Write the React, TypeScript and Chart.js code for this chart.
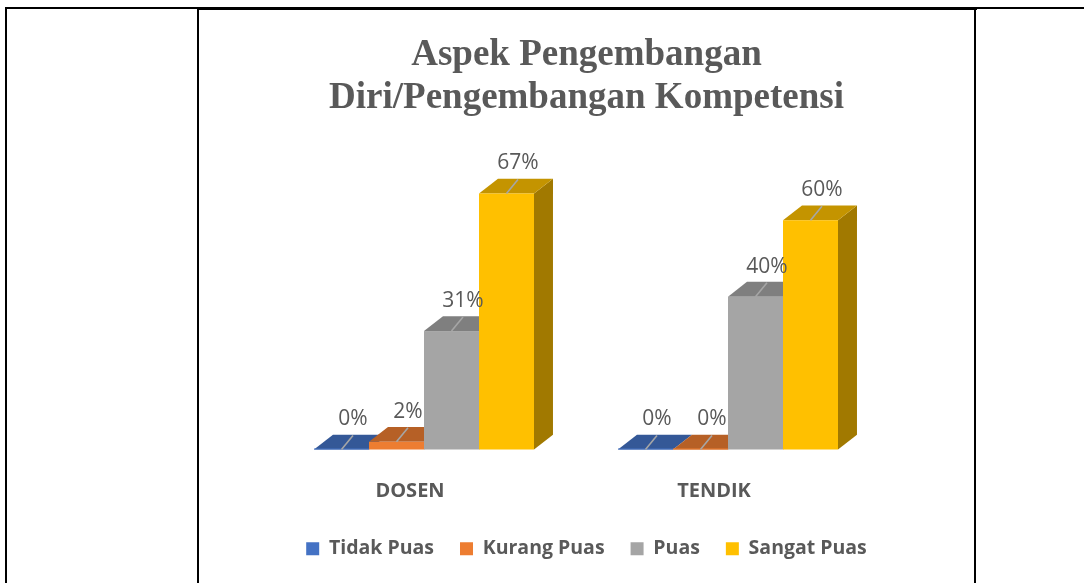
import React, { useEffect, useRef } from "react";
import { Chart, registerables } from "chart.js";

Chart.register(...registerables);

// ---- data ----
const categories = ["DOSEN", "TENDIK"];
const seriesNames = ["Tidak Puas", "Kurang Puas", "Puas", "Sangat Puas"];
const tidakPuas = [0, 0];
const kurangPuas = [2, 0];
const puas = [31, 40];
const sangatPuas = [67, 60];
const titleLines = ["Aspek Pengembangan", "Diri/Pengembangan Kompetensi"];
const yMax = 81;

// ---- style ----
const frontColors = ["#4472C4", "#ED7D31", "#A5A5A5", "#FFC000"];
const textColor = "#595959";
const sansFont = "'Open Sans', 'Liberation Sans', sans-serif";
const serifFont = "'Liberation Serif', 'Times New Roman', serif";

function shade(hex: string, f: number): string {
  const n = parseInt(hex.slice(1), 16);
  const r = Math.round(((n >> 16) & 255) * f);
  const g = Math.round(((n >> 8) & 255) * f);
  const b = Math.round((n & 255) * f);
  return `rgb(${r},${g},${b})`;
}

const bars3d = {
  id: "bars3d",
  beforeDatasetsDraw(chart: any) {
    const ctx = chart.ctx as CanvasRenderingContext2D;
    const n = chart.data.labels.length;
    ctx.save();
    const labelsToDraw: any[] = [];
    for (let i = 0; i < n; i++) {
      chart.data.datasets.forEach((ds: any, d: number) => {
        const meta = chart.getDatasetMeta(d);
        const el = meta.data[i];
        if (!el) return;
        const { x, y, base, width } = el.getProps(["x", "y", "base", "width"], true);
        const dx = width * 0.345;
        const dy = width * 0.27;
        const left = x - width / 2;
        const right = x + width / 2;
        const top = Math.min(y, base);
        const bottom = base;
        const col = frontColors[d];
        // side
        ctx.fillStyle = shade(col, 0.63);
        ctx.beginPath();
        ctx.moveTo(right, top);
        ctx.lineTo(right + dx, top - dy);
        ctx.lineTo(right + dx, bottom - dy);
        ctx.lineTo(right, bottom);
        ctx.closePath();
        ctx.fill();
        // top
        ctx.fillStyle = shade(col, 0.77);
        ctx.beginPath();
        ctx.moveTo(left, top);
        ctx.lineTo(right, top);
        ctx.lineTo(right + dx, top - dy);
        ctx.lineTo(left + dx, top - dy);
        ctx.closePath();
        ctx.fill();
        // front
        ctx.fillStyle = col;
        ctx.fillRect(left, top - (bottom - top < 1 ? 1 : 0), width, Math.max(1, bottom - top));
        labelsToDraw.push({ x, top, dx, v: ds.data[i] });
      });
    }
    // data labels with leader lines
    ctx.font = `21px ${sansFont}`;
    ctx.textAlign = "center";
    ctx.textBaseline = "middle";
    labelsToDraw.forEach((l) => {
      const lx = l.x + l.dx / 2 + 2;
      const ly = l.top - 30;
      ctx.strokeStyle = "#A6A6A6";
      ctx.lineWidth = 1.6;
      ctx.beginPath();
      ctx.moveTo(l.x, l.top);
      ctx.lineTo(lx, ly + 16);
      ctx.stroke();
      ctx.fillStyle = textColor;
      ctx.fillText(`${l.v}%`, lx, ly);
    });
    ctx.restore();
    return false;
  },
};

function ChartBox() {
  const ref = useRef<HTMLCanvasElement | null>(null);
  useEffect(() => {
    if (!ref.current) return;
    const seriesData = [tidakPuas, kurangPuas, puas, sangatPuas];
    const chart = new Chart(ref.current, {
      type: "bar",
      data: {
        labels: categories,
        datasets: seriesNames.map((name, i) => ({
          label: name,
          data: seriesData[i],
          backgroundColor: frontColors[i],
          borderWidth: 0,
          yAxisID: "y",
          categoryPercentage: 0.7237,
          barPercentage: 1,
        })),
      },
      options: {
        responsive: false,
        animation: false,
        layout: { padding: { left: 0, right: 0, top: 0, bottom: 14.5 } },
        plugins: {
          title: {
            display: true,
            text: titleLines,
            color: textColor,
            font: { family: serifFont, size: 37, weight: "bold", lineHeight: 43 / 37 },
            padding: { top: 24, bottom: 20 },
          },
          legend: {
            display: true,
            position: "bottom",
            labels: {
              boxWidth: 13,
              boxHeight: 13,
              padding: 26,
              color: textColor,
              font: { family: sansFont, size: 19.5, weight: "bold" },
            },
          },
          tooltip: { enabled: false },
        },
        scales: {
          x: {
            type: "category",
            offset: true,
            grid: { display: false, drawTicks: false },
            border: { display: false },
            ticks: {
              color: textColor,
              font: { family: sansFont, size: 20, weight: "bold", lineHeight: 1.2 },
              padding: 29.5,
              labelOffset: -14,
            },
            afterFit: (s: any) => {
              s.height = 63.5;
            },
          },
          y: {
            type: "linear",
            position: "left",
            min: 0,
            max: yMax,
            display: true,
            grid: { display: false, drawTicks: false },
            border: { display: false },
            ticks: { display: false },
            afterFit: (s: any) => {
              s.width = 73;
            },
          },
          y2: {
            type: "linear",
            position: "right",
            display: true,
            grid: { display: false, drawTicks: false },
            border: { display: false },
            ticks: { display: false },
            afterFit: (s: any) => {
              s.width = 94;
            },
          },
        },
      } as any,
      plugins: [bars3d as any],
    });
    return () => chart.destroy();
  }, []);
  return <canvas ref={ref} width={775} height={573} style={{ display: "block" }} />;
}

export default function App() {
  const line = (s: React.CSSProperties) => (
    <div style={{ position: "absolute", background: "#000", ...s }} />
  );
  return (
    <div style={{ position: "absolute", left: 0, top: 0, width: 1084, height: 583, overflow: "hidden", background: "#fff" }}>
      {line({ left: 5, top: 7, width: 1079, height: 2 })}
      {line({ left: 197, top: 7, width: 780, height: 3 })}
      {line({ left: 5, top: 7, width: 2, height: 576 })}
      {line({ left: 197, top: 7, width: 2, height: 576 })}
      {line({ left: 974, top: 7, width: 2, height: 576 })}
      <div style={{ position: "absolute", left: 199, top: 10, width: 775, height: 573 }}>
        <ChartBox />
      </div>
    </div>
  );
}
